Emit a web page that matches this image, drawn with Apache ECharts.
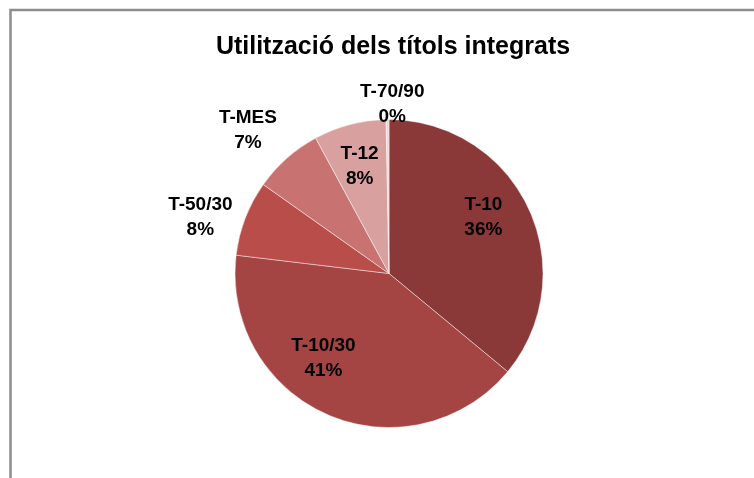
<!DOCTYPE html>
<html>
<head>
<meta charset="utf-8">
<title>Utilització dels títols integrats</title>
<script src="https://cdn.jsdelivr.net/npm/echarts@6/dist/echarts.min.js"></script>
<style>
    html, body { margin: 0; padding: 0; background: #fff; }
    #chart { width: 754px; height: 478px; }
</style>
</head>
<body>
<div id="chart"></div>
<script>
// chart data
const ticketNames = ['T-10', 'T-10/30', 'T-50/30', 'T-MES', 'T-12', 'T-70/90'];
const ticketShares = [36.0, 40.9, 7.9, 7.3, 7.6, 0.3];
const sliceColors = ['#8b3838', '#a44443', '#b84d4a', '#c87372', '#d8a1a0', '#efd6d5'];

// label nudges, so labels land where the original ones sit
const labelOffsets = {
    'T-10': [22, -22],
    'T-10/30': [-34, 11],
    'T-50/30': [-114, -27],
    'T-MES': [-88, -83],
    'T-12': [-9, -30],
    'T-70/90': [4, -89]
};

document.addEventListener('DOMContentLoaded', function () {
    const chartInstance = echarts.init(document.getElementById('chart'));

    const pieData = ticketNames.map(function (name, i) {
        return {
            name: name,
            value: ticketShares[i],
            itemStyle: { color: sliceColors[i] },
            label: { offset: labelOffsets[name] }
        };
    });

    const chartConfig = {
        animation: false,
        backgroundColor: '#ffffff',
        title: {
            text: 'Utilització dels títols integrats',
            left: 388,
            top: 30,
            textAlign: 'center',
            textStyle: {
                fontFamily: 'Liberation Sans, Arial, sans-serif',
                fontSize: 25,
                fontWeight: 'bold',
                color: '#000'
            }
        },
        graphic: [
            {
                // outer chart-area frame (only top and left edge are visible)
                type: 'rect',
                shape: { x: 10.5, y: 10, width: 800, height: 520 },
                style: { fill: 'none', stroke: '#8c8c8c', lineWidth: 2.5 },
                silent: true
            }
        ],
        series: [
            {
                type: 'pie',
                center: [389, 273.5],
                radius: 154,
                startAngle: 90,
                clockwise: true,
                avoidLabelOverlap: false,
                minAngle: 0,
                itemStyle: {
                    borderColor: 'rgba(255,255,255,0.45)',
                    borderWidth: 1
                },
                label: {
                    show: true,
                    position: 'inside',
                    formatter: function (params) {
                        return params.name + '\n' + Math.round(params.percent) + '%';
                    },
                    fontFamily: 'Liberation Sans, Arial, sans-serif',
                    fontSize: 19,
                    fontWeight: 'bold',
                    lineHeight: 25,
                    color: '#000',
                    align: 'center'
                },
                labelLine: { show: false },
                emphasis: { disabled: true },
                data: pieData
            }
        ]
    };

    chartInstance.setOption(chartConfig);

    window.addEventListener('resize', function () {
        chartInstance.resize();
    });
});
</script>
</body>
</html>
